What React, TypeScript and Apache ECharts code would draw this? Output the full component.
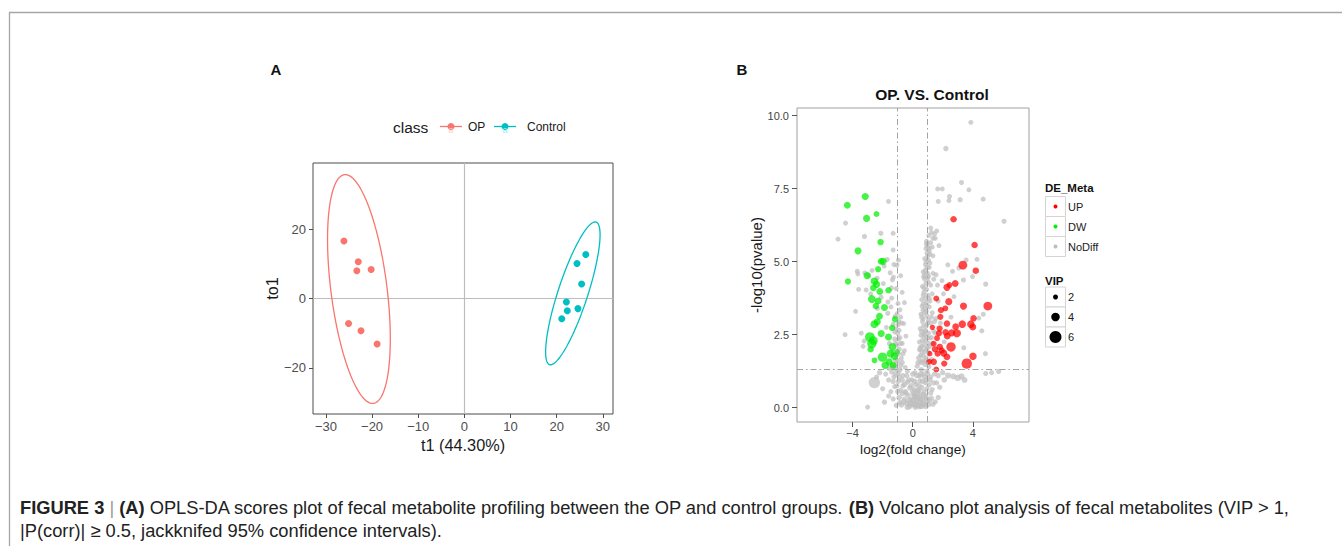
import React, { useEffect, useRef } from "react";
import * as echarts from "echarts";

// ---------- Panel A: OPLS-DA scores ----------
const opPoints = [[-26.1, 16.6], [-23.0, 10.6], [-23.3, 8.0], [-20.2, 8.4], [-25.1, -7.2], [-22.4, -9.3], [-18.9, -13.1]];
const controlPoints = [[26.3, 12.7], [24.4, 10.1], [25.4, 4.2], [22.1, -1.0], [22.3, -3.5], [24.6, -2.9], [21.1, -5.8]];
// ellipse: [centerX, centerY, halfWidthX, halfHeightY, correlation]
const opEllipse = [-22.85, 2.75, 6.8, 33.0, -0.434];
const controlEllipse = [23.5, 1.5, 5.9, 20.6, 0.82];
const aXTicks = [-30, -20, -10, 0, 10, 20, 30];
const aYTicks = [-20, 0, 20];

// ---------- Panel B: volcano [log2FC, -log10 p, VIP] ----------
const upPoints = [
  [2.72, 6.45, 2.2], [4.12, 5.57, 2.2], [3.34, 4.88, 3.6], [4.2, 4.69, 2.2], [2.83, 4.25, 2.4], [2.28, 4.12, 2.6],
  [2.45, 4.2, 1.8], [1.57, 3.74, 1.8], [2.17, 3.4, 1.8], [2.4, 3.63, 2.6], [1.88, 3.34, 2.0], [3.38, 3.48, 2.6],
  [5.0, 3.48, 3.6], [4.05, 3.06, 2.2], [1.84, 3.11, 2.0], [2.28, 2.88, 2.2], [2.86, 2.77, 2.4], [3.3, 2.86, 2.8],
  [3.87, 2.86, 2.8], [4.0, 2.76, 2.4], [2.59, 2.56, 2.6], [2.94, 2.55, 3.2], [2.19, 2.58, 2.2], [1.75, 2.55, 2.0],
  [1.31, 2.75, 1.5], [1.79, 2.71, 2.0], [1.4, 2.19, 1.8], [1.8, 2.08, 2.2], [2.55, 2.08, 4.0], [1.66, 1.85, 2.0],
  [2.06, 1.87, 2.6], [2.28, 1.74, 2.4], [1.4, 1.57, 2.2], [1.1, 1.57, 1.8], [2.1, 1.51, 2.0], [4.01, 1.76, 2.8],
  [3.6, 1.51, 4.6], [1.57, 1.31, 1.8], [1.93, 1.96, 2.0], [1.13, 1.85, 1.6], [1.48, 2.0, 2.0], [2.3, 2.45, 2.4],
  [1.62, 2.38, 1.8]
];
const dwPoints = [
  [-3.16, 7.23, 2.6], [-4.35, 6.93, 2.4], [-3.07, 6.48, 2.6], [-2.41, 6.63, 1.8], [-3.64, 5.37, 2.6], [-2.14, 5.67, 2.2],
  [-1.97, 5.01, 2.6], [-2.1, 5.01, 2.4], [-2.3, 4.74, 2.0], [-4.31, 4.32, 2.0], [-3.03, 4.52, 2.6], [-2.55, 4.33, 2.8],
  [-2.4, 4.22, 2.6], [-2.62, 4.1, 2.2], [-2.19, 3.98, 2.4], [-1.61, 4.02, 2.2], [-2.72, 3.72, 3.0], [-2.3, 3.65, 2.4],
  [-1.88, 3.43, 2.6], [-2.45, 3.48, 2.2], [-1.17, 3.03, 2.2], [-2.21, 3.13, 2.4], [-2.55, 2.86, 3.0], [-2.36, 2.94, 2.6],
  [-2.1, 2.54, 2.6], [-2.85, 2.42, 4.2], [-2.72, 2.19, 4.0], [-1.61, 2.42, 2.6], [-1.37, 2.73, 2.0], [-2.01, 1.73, 4.0],
  [-1.35, 2.08, 3.0], [-1.48, 1.85, 3.0], [-1.21, 1.76, 2.8], [-1.83, 1.45, 2.8], [-2.54, 1.62, 1.8], [-1.57, 1.57, 2.6],
  [-1.04, 1.91, 1.6], [-2.62, 2.3, 3.6], [-1.3, 1.45, 2.4], [-2.8, 2.0, 2.2]
];
const noDiffPoints = [
  [3.87, 9.77, 1.2], [2.21, 8.87, 1.5], [3.25, 7.71, 1.3], [3.74, 7.46, 1.2], [1.66, 7.49, 1.2], [1.97, 7.49, 1.2],
  [2.45, 7.23, 1.3], [2.41, 7.09, 1.2], [3.16, 7.12, 1.4], [4.69, 7.14, 1.3], [1.7, 7.06, 1.2], [6.08, 6.38, 1.4],
  [-1.61, 7.06, 1.2], [-4.47, 6.32, 1.3], [-3.21, 5.86, 1.4], [-4.97, 5.77, 1.3], [-2.12, 5.97, 1.4], [-1.3, 5.97, 1.2],
  [-1.3, 5.4, 1.2], [-1.7, 5.07, 1.4], [-1.25, 4.9, 1.3], [-1.05, 4.88, 1.2], [-0.95, 5.05, 1.2], [-3.69, 4.67, 1.3],
  [-3.65, 4.58, 1.2], [-3.18, 4.61, 1.3], [-2.94, 4.53, 1.4], [-2.37, 4.43, 1.3], [-1.5, 4.62, 1.3], [-1.35, 4.38, 1.4],
  [-1.28, 4.47, 1.2], [-1.42, 4.1, 1.3], [-1.1, 4.08, 1.2], [-0.98, 3.57, 1.3], [-1.04, 3.22, 1.2], [-1.17, 3.12, 1.3],
  [-2.8, 3.9, 1.2], [-3.1, 4.03, 1.2], [-2.1, 3.78, 1.3], [-1.66, 3.23, 1.4], [-0.93, 2.94, 1.3], [-1.19, 2.6, 1.4],
  [-0.6, 2.88, 1.2], [-3.23, 2.28, 1.3], [-3.3, 2.1, 1.3], [-3.42, 2.55, 1.2], [-2.55, 0.86, 5.2], [-3.0, 0.02, 1.3],
  [-1.88, 0.19, 1.4], [2.34, 4.89, 1.3], [2.65, 4.67, 1.2], [3.07, 4.78, 1.3], [3.38, 4.37, 1.3], [3.98, 4.49, 1.2],
  [4.86, 4.23, 1.4], [3.56, 5.06, 1.2], [4.28, 5.08, 1.2], [1.55, 4.55, 1.3], [1.4, 4.4, 1.2], [4.84, 1.85, 1.3],
  [4.86, 1.17, 1.3], [5.72, 1.24, 1.4], [5.25, 1.2, 1.3], [2.35, 1.1, 2.0], [2.7, 1.07, 2.0], [3.0, 1.02, 2.2],
  [3.25, 1.07, 2.0], [3.45, 0.95, 1.8], [2.1, 0.95, 1.6], [1.1, 5.35, 1.2], [1.35, 5.8, 1.3], [1.6, 6.05, 1.2],
  [1.45, 5.95, 1.3], [0.98, 5.62, 1.2], [1.2, 6.15, 1.2], [1.75, 5.55, 1.2], [4.7, 3.2, 1.3], [4.4, 3.07, 1.2],
  [3.4, 2.05, 1.3], [4.6, 2.63, 1.3], [-4.5, 2.5, 1.2], [-3.8, 3.3, 1.2], [-3.6, 4.05, 1.2], [-2.2, 1.2, 1.5],
  [-1.65, 3.62, 1.3], [-1.9, 4.85, 1.3], [-0.8, 4.52, 1.2], [-0.7, 3.95, 1.2],
  [-0.55, 0.3, 1.4], [-0.4, 0.15, 1.6], [-0.3, 0.42, 1.5], [-0.2, 0.05, 1.8], [-0.1, 0.28, 1.6], [0.0, 0.12, 1.8],
  [0.1, 0.38, 1.5], [0.18, 0.02, 1.7], [0.25, 0.22, 1.6], [0.35, 0.08, 1.8], [0.42, 0.35, 1.5], [0.5, 0.18, 1.6],
  [0.6, 0.05, 1.7], [0.68, 0.3, 1.4], [0.78, 0.12, 1.6], [0.88, 0.4, 1.4], [0.95, 0.22, 1.5], [-0.7, 0.48, 1.3],
  [0.3, 0.48, 1.5], [0.05, 0.45, 1.4], [-0.25, 0.25, 1.6], [0.55, 0.45, 1.4], [1.05, 0.1, 1.5], [1.25, 0.32, 1.4],
  [-0.85, 0.18, 1.4], [-1.1, 0.08, 1.3], [1.5, 0.2, 1.4],
  [-0.8, 0.6, 1.4], [-0.65, 0.75, 1.3], [-0.5, 0.55, 1.5], [-0.35, 0.88, 1.4], [-0.2, 0.68, 1.5], [-0.05, 0.95, 1.3],
  [0.1, 0.62, 1.5], [0.22, 0.8, 1.4], [0.35, 0.58, 1.5], [0.48, 0.92, 1.4], [0.6, 0.7, 1.5], [0.75, 0.55, 1.4],
  [0.85, 0.85, 1.3], [0.95, 0.65, 1.4], [-0.95, 0.9, 1.3], [1.1, 0.78, 1.3], [1.3, 0.62, 1.4], [1.6, 0.85, 1.3],
  [-1.2, 0.72, 1.3], [-1.45, 0.55, 1.3],
  [-1.25, 1.05, 1.3], [-1.1, 1.32, 1.4], [-0.95, 1.18, 1.3], [-0.8, 1.45, 1.4], [-0.65, 1.1, 1.3], [-0.5, 1.38, 1.2],
  [0.15, 1.2, 1.3], [0.3, 1.42, 1.4], [0.45, 1.08, 1.3], [0.58, 1.3, 1.4], [0.7, 1.15, 1.3], [0.82, 1.48, 1.4],
  [0.95, 1.25, 1.3], [1.08, 1.4, 1.3], [1.2, 1.05, 1.3], [-1.4, 1.22, 1.3], [-0.35, 1.25, 1.2], [1.45, 1.15, 1.3],
  [-1.15, 1.62, 1.3], [-0.95, 1.85, 1.3], [-0.75, 1.7, 1.2], [-0.55, 1.95, 1.2], [0.35, 1.55, 1.3], [0.52, 1.8, 1.3],
  [0.65, 1.6, 1.4], [0.78, 1.92, 1.3], [0.9, 1.7, 1.3], [1.05, 1.88, 1.3], [1.25, 1.65, 1.3], [0.45, 1.98, 1.2],
  [-1.3, 1.9, 1.3],
  [-1.05, 2.15, 1.3], [-0.85, 2.4, 1.2], [-0.7, 2.2, 1.2], [0.45, 2.25, 1.3], [0.6, 2.1, 1.3], [0.72, 2.45, 1.3],
  [0.85, 2.3, 1.3], [0.98, 2.05, 1.3], [1.1, 2.38, 1.3], [1.3, 2.2, 1.3], [0.55, 2.48, 1.2],
  [-0.9, 2.65, 1.2], [-0.75, 2.9, 1.2], [0.5, 2.7, 1.3], [0.65, 2.95, 1.3], [0.78, 2.6, 1.3], [0.92, 2.82, 1.3],
  [1.05, 2.55, 1.3], [1.2, 2.9, 1.2], [1.4, 2.62, 1.2],
  [0.55, 3.2, 1.2], [0.7, 3.05, 1.3], [0.82, 3.4, 1.3], [0.95, 3.15, 1.3], [1.1, 3.45, 1.2], [0.62, 3.48, 1.2],
  [1.25, 3.1, 1.2], [-0.85, 3.35, 1.2],
  [0.6, 3.7, 1.2], [0.75, 3.95, 1.3], [0.88, 3.6, 1.3], [1.0, 3.85, 1.3], [1.15, 3.65, 1.2], [0.7, 3.55, 1.2],
  [1.3, 3.9, 1.2],
  [0.65, 4.15, 1.2], [0.8, 4.4, 1.3], [0.92, 4.05, 1.3], [1.05, 4.3, 1.2], [0.72, 4.48, 1.2], [1.2, 4.2, 1.2],
  [0.7, 4.65, 1.2], [0.85, 4.9, 1.3], [0.98, 4.6, 1.3], [1.1, 4.8, 1.2], [0.78, 4.55, 1.2],
  [0.8, 5.1, 1.2], [0.95, 5.3, 1.2], [1.05, 5.05, 1.2], [0.88, 5.45, 1.2], [1.15, 5.25, 1.2],
  [0.92, 5.7, 1.2], [1.08, 5.9, 1.2], [1.2, 5.65, 1.2], [1.0, 5.5, 1.2],
  [1.3, 3.25, 1.3], [1.55, 3.05, 1.2], [1.7, 3.65, 1.2], [1.45, 2.95, 1.3], [1.95, 4.35, 1.2], [2.05, 3.9, 1.2],
  [1.65, 4.2, 1.2], [1.85, 2.9, 1.2], [1.35, 4.6, 1.2], [2.55, 3.1, 1.2], [1.25, 2.4, 1.3], [2.1, 2.25, 1.2],
  [1.5, 2.55, 1.2], [2.75, 3.8, 1.2], [1.15, 4.95, 1.2], [1.35, 5.2, 1.2],
  [-1.45, 3.45, 1.2], [-1.3, 2.85, 1.3], [-1.55, 2.2, 1.3], [-1.75, 2.75, 1.2], [-2.35, 3.4, 1.2], [-1.95, 4.25, 1.2],
  [-1.4, 3.75, 1.2], [-2.7, 4.7, 1.2], [-1.55, 1.35, 1.3], [-1.8, 1.15, 1.3], [-2.4, 1.05, 1.3], [-1.2, 2.35, 1.3],
  [-1.0, 2.55, 1.3], [-1.6, 0.4, 1.3], [-2.0, 0.65, 1.3], [-0.55, 3.6, 1.2], [-0.45, 2.45, 1.2],
  [-0.9, 0.35, 1.6], [-0.75, 0.1, 1.8], [-0.6, 0.2, 1.7], [-0.45, 0.5, 1.6], [-0.15, 0.15, 1.9], [0.05, 0.25, 1.8],
  [0.15, 0.1, 2.0], [0.2, 0.4, 1.7], [0.3, 0.3, 1.8], [0.45, 0.05, 2.0], [0.55, 0.28, 1.7], [0.65, 0.15, 1.8],
  [0.72, 0.45, 1.6], [0.85, 0.05, 1.7], [0.92, 0.32, 1.6], [1.1, 0.25, 1.6], [1.35, 0.12, 1.5], [1.2, 0.5, 1.5],
  [-1.0, 0.55, 1.5], [-1.3, 0.3, 1.4], [1.7, 0.35, 1.5], [-0.35, 0.02, 1.8], [0.0, 0.55, 1.7], [0.4, 0.6, 1.6],
  [-1.05, 0.75, 1.5], [-0.9, 1.05, 1.5], [-0.7, 0.95, 1.6], [-0.55, 0.8, 1.6], [-0.4, 1.1, 1.5], [-0.25, 0.95, 1.6],
  [-0.1, 0.75, 1.6], [0.0, 1.15, 1.5], [0.12, 0.9, 1.6], [0.28, 1.1, 1.6], [0.4, 0.75, 1.6], [0.52, 1.15, 1.6],
  [0.65, 0.9, 1.6], [0.8, 1.05, 1.6], [0.9, 0.95, 1.5], [1.0, 1.15, 1.5], [1.15, 0.95, 1.5], [-1.3, 0.9, 1.4],
  [-1.15, 1.15, 1.5], [1.4, 0.85, 1.5], [1.8, 0.7, 1.5], [2.0, 1.2, 1.5], [1.7, 1.1, 1.5], [-1.6, 0.95, 1.4],
  [-1.35, 1.38, 1.4],
  [0.4, 1.7, 1.5], [0.55, 1.55, 1.6], [0.7, 1.78, 1.5], [0.85, 1.6, 1.5], [1.0, 1.55, 1.5], [0.6, 1.95, 1.5],
  [0.75, 2.15, 1.5], [0.9, 2.0, 1.5], [1.05, 2.2, 1.4], [0.65, 2.3, 1.5], [0.8, 2.5, 1.4], [0.95, 2.4, 1.4],
  [1.15, 2.1, 1.4], [0.5, 2.05, 1.4],
  [-1.2, 1.45, 1.5], [-1.0, 1.6, 1.5], [-0.85, 1.3, 1.5], [-0.7, 1.55, 1.4], [-1.1, 1.8, 1.5], [-0.9, 2.0, 1.4],
  [-0.65, 1.85, 1.4], [-1.15, 2.2, 1.4], [-0.95, 2.35, 1.4], [-0.8, 2.2, 1.4],
  [0.6, 2.6, 1.4], [0.72, 2.8, 1.4], [0.85, 2.65, 1.4], [1.0, 2.9, 1.4], [0.6, 3.1, 1.4], [0.78, 3.25, 1.4],
  [0.9, 3.3, 1.4], [1.05, 3.0, 1.4], [0.68, 3.35, 1.3], [0.85, 3.75, 1.4], [0.95, 3.5, 1.4], [1.1, 3.75, 1.3],
  [0.7, 3.85, 1.3], [-0.95, 2.85, 1.3], [-1.1, 2.7, 1.3], [-0.8, 3.1, 1.3],
  [0.75, 4.1, 1.3], [0.88, 4.25, 1.3], [1.0, 4.45, 1.3], [0.82, 4.7, 1.3], [0.95, 4.8, 1.3], [1.05, 4.5, 1.3],
  [0.9, 5.0, 1.3], [1.0, 5.2, 1.3], [0.9, 5.6, 1.2], [1.1, 5.45, 1.2], [1.3, 5.5, 1.2], [1.25, 6.0, 1.2],
  [1.5, 5.8, 1.2]
];
const bXTicks = [-4, 0, 4];
const bYTicks = [0, 2.5, 5, 7.5, 10];
const fcCut = [-1, 1];
const pCut = [1.30103];
const vipLegend = [2, 4, 6];
const deLegend = ["UP", "DW", "NoDiff"];

const FONT = "'Liberation Sans', Arial, Helvetica, sans-serif";
const OP_COLOR = "#F8766D";
const CT_COLOR = "#00BFC4";
const minus = (v: number) => String(v).replace("-", "\u2212");
const vipSize = (v: number) => 3 + 1.6 * v;

function ellipse(p: number[]) {
  const [cx, cy, hx, hy, rho] = p;
  const d = Math.acos(rho);
  const out: number[][] = [];
  for (let i = 0; i <= 120; i++) {
    const t = (i / 120) * Math.PI * 2;
    out.push([cx + hx * Math.cos(t), cy + hy * Math.cos(t + d)]);
  }
  return out;
}

export default function App() {
  const ref = useRef<HTMLDivElement>(null);
  useEffect(() => {
    if (!ref.current) return;
    const chart = echarts.init(ref.current, undefined, { renderer: "svg" });
    const deColors = ["#FF0000", "#00EE00", "#BEBEBE"];
    const CAP = 18.3;
    const graphic: any[] = [
      { type: "line", shape: { x1: 9, y1: 12.5, x2: 1342, y2: 12.5 }, style: { stroke: "#a6a6a6", lineWidth: 1.3 } },
      { type: "line", shape: { x1: 9.5, y1: 12, x2: 9.5, y2: 546 }, style: { stroke: "#a6a6a6", lineWidth: 1.3 } },
      { type: "text", x: 276, y: 69, style: { text: "A", font: `bold 15px ${FONT}`, fill: "#111", align: "center", verticalAlign: "middle" } },
      { type: "text", x: 742, y: 69, style: { text: "B", font: `bold 15px ${FONT}`, fill: "#111", align: "center", verticalAlign: "middle" } },
      // Legend A
      { type: "text", x: 393, y: 127, style: { text: "class", font: `15.5px ${FONT}`, fill: "#1a1a1a", verticalAlign: "middle" } },
      { type: "line", shape: { x1: 440, y1: 126.5, x2: 462, y2: 126.5 }, style: { stroke: OP_COLOR, lineWidth: 1.3 } },
      { type: "circle", shape: { cx: 451, cy: 126.5, r: 3.5 }, style: { fill: OP_COLOR } },
      { type: "text", x: 451, y: 130, style: { text: "a", font: `9px ${FONT}`, fill: "#fcc", align: "center", verticalAlign: "middle" } },
      { type: "text", x: 468, y: 127, style: { text: "OP", font: `12px ${FONT}`, fill: "#1a1a1a", verticalAlign: "middle" } },
      { type: "line", shape: { x1: 494, y1: 126.5, x2: 516, y2: 126.5 }, style: { stroke: CT_COLOR, lineWidth: 1.3 } },
      { type: "circle", shape: { cx: 505, cy: 126.5, r: 3.5 }, style: { fill: CT_COLOR } },
      { type: "text", x: 505, y: 130, style: { text: "a", font: `9px ${FONT}`, fill: "#9ee", align: "center", verticalAlign: "middle" } },
      { type: "text", x: 527, y: 127, style: { text: "Control", font: `12px ${FONT}`, fill: "#1a1a1a", verticalAlign: "middle" } },
      // Title B
      { type: "text", x: 932, y: 94, style: { text: "OP. VS. Control", font: `bold 15.5px ${FONT}`, fill: "#111", align: "center", verticalAlign: "middle" } },
      // Legend B
      { type: "text", x: 1045, y: 188, style: { text: "DE_Meta", font: `bold 11.5px ${FONT}`, fill: "#111", verticalAlign: "middle" } },
      { type: "text", x: 1045, y: 281, style: { text: "VIP", font: `bold 11.5px ${FONT}`, fill: "#111", verticalAlign: "middle" } },
      {
        type: "text", x: 20, y: 495.5,
        style: {
          text: "{b|FIGURE 3} {s||} {b|(A)} OPLS-DA scores plot of fecal metabolite profiling between the OP and control groups. {b|(B)} Volcano plot analysis of fecal metabolites (VIP > 1,\n|P(corr)| \u2265 0.5, jackknifed 95% confidence intervals).",
          font: `${CAP}px ${FONT}`, fill: "#222", lineHeight: 23,
          rich: {
            b: { fontWeight: "bold", fontSize: CAP, fontFamily: FONT, fill: "#222", lineHeight: 23 },
            s: { fontSize: CAP, fontFamily: FONT, fill: "#999", lineHeight: 23 }
          }
        }
      }
    ];
    deLegend.forEach((name, i) => {
      const y0 = 196.5 + i * 20;
      graphic.push({ type: "rect", shape: { x: 1045.5, y: y0, width: 20, height: 20 }, style: { fill: "#fff", stroke: "#d4d4d4", lineWidth: 1 } });
      graphic.push({ type: "circle", shape: { cx: 1055.5, cy: y0 + 10, r: 2 }, style: { fill: deColors[i] } });
      graphic.push({ type: "text", x: 1068, y: y0 + 10, style: { text: name, font: `11px ${FONT}`, fill: "#222", verticalAlign: "middle" } });
    });
    vipLegend.forEach((v, i) => {
      const y0 = 287 + i * 20;
      graphic.push({ type: "rect", shape: { x: 1045.5, y: y0, width: 20, height: 20 }, style: { fill: "#fff", stroke: "#d4d4d4", lineWidth: 1 } });
      graphic.push({ type: "circle", shape: { cx: 1055.5, cy: y0 + 10, r: (1.5 + 1.75 * v) / 2 }, style: { fill: "#000" } });
      graphic.push({ type: "text", x: 1068, y: y0 + 10, style: { text: String(v), font: `11px ${FONT}`, fill: "#222", verticalAlign: "middle" } });
    });

    const axisA = (ticks: number[], margin: number) => ({
      axisLine: { show: false, onZero: false },
      splitLine: { show: false },
      axisTick: { show: true, length: 4, lineStyle: { color: "#4d4d4d", width: 1 }, customValues: ticks },
      axisLabel: { color: "#4d4d4d", fontSize: 13, fontFamily: FONT, margin, customValues: ticks, formatter: (v: number) => minus(v) }
    });
    const axisB = (ticks: number[], margin: number, fmt: (v: number) => string) => ({
      axisLine: { show: false, onZero: false },
      splitLine: { show: false },
      axisTick: { show: true, length: 5, lineStyle: { color: "#555", width: 1 }, customValues: ticks },
      axisLabel: { color: "#444", fontSize: 11, fontFamily: FONT, margin, customValues: ticks, formatter: fmt }
    });

    const volcanoSeries = (data: number[][], color: string, name: string, z: number) => ({
      name, type: "scatter", xAxisIndex: 1, yAxisIndex: 1, data, z,
      symbolSize: (d: number[]) => vipSize(d[2]),
      itemStyle: { color, opacity: 0.72 }
    });

    chart.setOption({
      animation: false,
      textStyle: { fontFamily: FONT },
      grid: [
        { left: 313, top: 163, width: 300, height: 251, show: true, borderColor: "#4d4d4d", borderWidth: 1, backgroundColor: "#fff" },
        { left: 797, top: 108, width: 232, height: 314, show: true, borderColor: "#a0a0a0", borderWidth: 1, backgroundColor: "#fff" }
      ],
      xAxis: [
        { type: "value", gridIndex: 0, min: -32.8, max: 32.2, ...axisA(aXTicks, 6),
          name: "t1 (44.30%)", nameLocation: "middle", nameGap: 23, nameTextStyle: { fontSize: 16.3, color: "#1a1a1a", fontFamily: FONT } },
        { type: "value", gridIndex: 1, min: -7.7, max: 7.74, ...axisB(bXTicks, 5, (v) => minus(v)),
          name: "log2(fold change)", nameLocation: "middle", nameGap: 16, nameTextStyle: { fontSize: 13.7, color: "#1a1a1a", fontFamily: FONT } }
      ],
      yAxis: [
        { type: "value", gridIndex: 0, min: -33.3, max: 39.1, ...axisA(aYTicks, 7),
          name: "to1", nameLocation: "middle", nameGap: 33, nameTextStyle: { fontSize: 16.3, color: "#1a1a1a", fontFamily: FONT } },
        { type: "value", gridIndex: 1, min: -0.49, max: 10.26, ...axisB(bYTicks, 8, (v) => v.toFixed(1)),
          name: "-log10(pvalue)", nameLocation: "middle", nameGap: 31, nameTextStyle: { fontSize: 15, color: "#1a1a1a", fontFamily: FONT } }
      ],
      series: [
        {
          type: "line", xAxisIndex: 0, yAxisIndex: 0, data: ellipse(opEllipse), showSymbol: false, symbol: "none", z: 2,
          lineStyle: { color: OP_COLOR, width: 1.3 },
          markLine: {
            silent: true, symbol: "none", label: { show: false }, z: 1,
            lineStyle: { color: "#bdbdbd", width: 1.2, type: "solid" },
            data: [{ xAxis: 0 }, { yAxis: 0 }]
          }
        },
        { type: "line", xAxisIndex: 0, yAxisIndex: 0, data: ellipse(controlEllipse), showSymbol: false, symbol: "none", z: 2, lineStyle: { color: CT_COLOR, width: 1.3 } },
        { name: "OP", type: "scatter", xAxisIndex: 0, yAxisIndex: 0, data: opPoints, symbolSize: 7, itemStyle: { color: OP_COLOR, opacity: 1 }, z: 3 },
        { name: "Control", type: "scatter", xAxisIndex: 0, yAxisIndex: 0, data: controlPoints, symbolSize: 7, itemStyle: { color: CT_COLOR, opacity: 1 }, z: 3 },
        {
          ...volcanoSeries(noDiffPoints, "#BEBEBE", "NoDiff", 2),
          markLine: {
            silent: true, symbol: "none", label: { show: false },
            lineStyle: { color: "#a3a3a3", width: 1, type: [6, 3, 1.5, 3] },
            data: [...fcCut.map((v) => ({ xAxis: v })), ...pCut.map((v) => ({ yAxis: v }))]
          }
        },
        volcanoSeries(dwPoints, "#00EE00", "DW", 3),
        volcanoSeries(upPoints, "#FF0000", "UP", 3)
      ],
      graphic
    });
    return () => chart.dispose();
  }, []);
  return <div ref={ref} style={{ position: "fixed", left: 0, top: 0, width: 1342, height: 546, background: "#fff" }} />;
}
